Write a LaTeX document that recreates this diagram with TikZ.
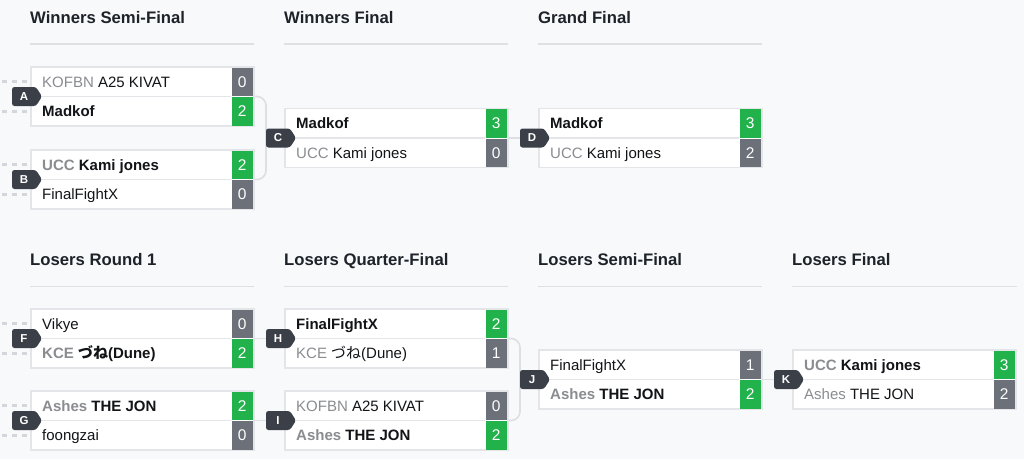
\documentclass[tikz,border=0pt]{standalone}
\usepackage{fontspec}
\setmainfont{Liberation Sans}
\newfontfamily\jp{Noto Sans CJK JP}
\usetikzlibrary{calc}
\pgfdeclarelayer{back}
\pgfdeclarelayer{lines}
\pgfsetlayers{back,lines,main}

\definecolor{bgc}{HTML}{F8F9FB}
\definecolor{boxborder}{HTML}{E3E5E9}
\definecolor{wincol}{HTML}{22B24C}
\definecolor{losecol}{HTML}{6B7079}
\definecolor{tagc}{HTML}{3A3F48}
\definecolor{prec}{HTML}{8A8C90}
\definecolor{ink}{HTML}{121417}
\definecolor{headc}{HTML}{1E2329}
\definecolor{rulec}{HTML}{DEE0E4}
\definecolor{connc}{HTML}{DCDFE3}
\definecolor{dashc}{HTML}{D3D6DB}

\newcommand\pre[1]{{\color{prec}#1}}
\newcommand\preb[1]{{\color{prec}\bfseries #1}}
\newcommand\jpn[1]{{\jp #1}}

% #1 name, #2 x, #3 y, #4 row1, #5 score1, #6 colour1, #7 row2, #8 score2, #9 colour2
\newcommand\bmatch[9]{%
  \node[mbox] (#1) at (#2,#3) {};
  \draw[divider] (#2,#3+29.5) -- (#2+200,#3+29.5);
  \node[scorecell, fill=#6] (#1s1) at (#2+211.25,#3+14.75) {#5};
  \node[scorecell, fill=#9] (#1s2) at (#2+211.25,#3+44.25) {#8};
  \node[rowtext] (#1r1) at (#2+11,#3+20) {#4};
  \node[rowtext] (#1r2) at (#2+11,#3+49.5) {#7};
}
% #1 name, #2 box left x, #3 centre y, #4 letter
\newcommand\mtag[4]{%
  \fill[tagc, rounded corners=2.5pt] (#2-7,#3-9.5) -- (#2+5,#3-9.5) -- (#2+11,#3) -- (#2+5,#3+9.5) -- (#2-19,#3+9.5) -- (#2-19,#3-9.5) -- cycle;
  \node[tagtext] (#1) at (#2-7,#3) {#4};
}

\begin{document}
\begin{tikzpicture}[x=1pt,y=-1pt,
  mbox/.style={anchor=north west, draw=boxborder, fill=white, line width=1.5pt,
    minimum width=223pt, minimum height=59pt, inner sep=0pt, outer sep=0pt},
  divider/.style={draw=boxborder, line width=1.3pt},
  scorecell/.style={minimum width=21.5pt, minimum height=28.5pt, inner sep=0pt,
    text=white, font=\fontsize{15.5}{15.5}\selectfont, text height=11pt, text depth=0pt},
  rowtext/.style={anchor=base west, inner sep=0pt, text=ink, font=\fontsize{15}{18}\selectfont},
  tagtext/.style={minimum width=24pt, minimum height=19pt, inner sep=0pt, outer sep=0pt,
    text=white, font=\bfseries\fontsize{11.5}{11.5}\selectfont},
  heading/.style={anchor=base west, inner sep=0pt, text=headc, font=\bfseries\fontsize{16.7}{18}\selectfont},
  hrule/.style={draw=rulec, line width=1.4pt},
  conn/.style={draw=connc, line width=1.6pt},
  bracket/.style={draw=connc, line width=1.6pt, rounded corners=9pt},
  dashin/.style={draw=dashc, line width=3pt, dash pattern=on 5pt off 5pt},
]
\useasboundingbox (0,0) rectangle (1024,459);
\begin{pgfonlayer}{back}
  \fill[bgc] (0,0) rectangle (1024,459);
\end{pgfonlayer}

% headings
\node[heading] (h1) at (30,23.3) {Winners Semi-Final};
\node[heading] (h2) at (284,23.3) {Winners Final};
\node[heading] (h3) at (538,23.3) {Grand Final};
\draw[hrule] (30,44) -- (254,44);
\draw[hrule] (284,44) -- (508,44);
\draw[hrule] (538,44) -- (762,44);

\node[heading] (h4) at (30,265.7) {Losers Round 1};
\node[heading] (h5) at (284,265.7) {Losers Quarter-Final};
\node[heading] (h6) at (538,265.7) {Losers Semi-Final};
\node[heading] (h7) at (792,265.7) {Losers Final};
\draw[hrule] (30,286.5) -- (254,286.5);
\draw[hrule] (284,286.5) -- (508,286.5);
\draw[hrule] (538,286.5) -- (762,286.5);
\draw[hrule] (792,286.5) -- (1017,286.5);

% matches
\bmatch{A}{31}{67}{\pre{KOFBN} A25 KIVAT}{0}{losecol}{\textbf{Madkof}}{2}{wincol}
\bmatch{B}{31}{150}{\preb{UCC} \textbf{Kami jones}}{2}{wincol}{FinalFightX}{0}{losecol}
\bmatch{C}{285}{108.5}{\textbf{Madkof}}{3}{wincol}{\pre{UCC} Kami jones}{0}{losecol}
\bmatch{D}{539}{108.5}{\textbf{Madkof}}{3}{wincol}{\pre{UCC} Kami jones}{2}{losecol}

\bmatch{F}{31}{309}{Vikye}{0}{losecol}{\preb{KCE} \textbf{\jpn{づね}(Dune)}}{2}{wincol}
\bmatch{G}{31}{391}{\preb{Ashes} \textbf{THE JON}}{2}{wincol}{foongzai}{0}{losecol}
\bmatch{H}{285}{309}{\textbf{FinalFightX}}{2}{wincol}{\pre{KCE} \jpn{づね}(Dune)}{1}{losecol}
\bmatch{I}{285}{391}{\pre{KOFBN} A25 KIVAT}{0}{losecol}{\preb{Ashes} \textbf{THE JON}}{2}{wincol}
\bmatch{J}{539}{350}{FinalFightX}{1}{losecol}{\preb{Ashes} \textbf{THE JON}}{2}{wincol}
\bmatch{K}{793}{350}{\preb{UCC} \textbf{Kami jones}}{3}{wincol}{\pre{Ashes} THE JON}{2}{losecol}

% tags
\mtag{tA}{31}{96.5}{A}
\mtag{tB}{31}{179.5}{B}
\mtag{tC}{285}{138}{C}
\mtag{tD}{539}{138}{D}
\mtag{tF}{31}{338.5}{F}
\mtag{tG}{31}{420.5}{G}
\mtag{tH}{285}{338.5}{H}
\mtag{tI}{285}{420.5}{I}
\mtag{tJ}{539}{379.5}{J}
\mtag{tK}{793}{379.5}{K}

% incoming dashed lines
\coordinate (inA1) at (0,81.75);
\coordinate (inA2) at (0,111.25);
\coordinate (inB1) at (0,164.75);
\coordinate (inB2) at (0,194.25);
\coordinate (inF1) at (0,323.75);
\coordinate (inF2) at (0,353.25);
\coordinate (inG1) at (0,405.75);
\coordinate (inG2) at (0,435.25);

\begin{pgfonlayer}{lines}
  \foreach \m in {A,B,F,G}{
    \draw[dashin] ([xshift=-4pt]in\m1 -| \m.west) -- (in\m1);
    \draw[dashin] ([xshift=-4pt]in\m2 -| \m.west) -- (in\m2);
  }
  \draw[bracket] (A.east) -| (tC.west) |- (B.east);
  \draw[bracket] (H.east) -| (tJ.west) |- (I.east);
  \draw[conn] (C.east) -- (tD.west);
  \draw[conn] (F.east) -- (tH.west);
  \draw[conn] (G.east) -- (tI.west);
  \draw[conn] (J.east) -- (tK.west);
\end{pgfonlayer}
\end{tikzpicture}
\end{document}
